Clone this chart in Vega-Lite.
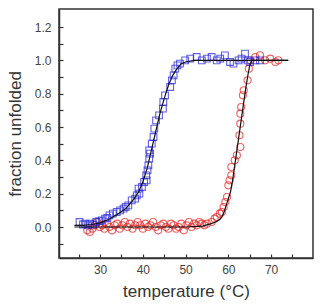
{
  "$schema": "https://vega.github.io/schema/vega-lite/v6.json",
  "autosize": "none",
  "width": 254,
  "height": 249,
  "padding": {"left": 59, "top": 9, "right": 10, "bottom": 50},
  "background": "white",
  "config": {
    "view": {"stroke": "#333", "strokeWidth": 1.5},
    "axis": {
      "grid": false,
      "domainColor": "#333",
      "domainWidth": 1.5,
      "tickColor": "#333",
      "tickWidth": 1.2,
      "tickSize": -4,
      "labelFont": "Liberation Sans",
      "labelFontSize": 12,
      "labelColor": "#444",
      "titleFont": "Liberation Sans",
      "titleFontSize": 17,
      "titleFontWeight": "normal",
      "titleColor": "#333"
    }
  },
  "datasets": {
    "blue": [
      {"T": 25.2, "v": 0.03}, {"T": 26.0, "v": 0.015}, {"T": 26.5, "v": 0.02}, {"T": 27.2, "v": 0.01}, {"T": 27.7, "v": 0.02},
      {"T": 28.4, "v": 0.015}, {"T": 29.1, "v": 0.03}, {"T": 29.8, "v": 0.035}, {"T": 30.4, "v": 0.04}, {"T": 31.2, "v": 0.05},
      {"T": 31.7, "v": 0.055}, {"T": 32.2, "v": 0.07}, {"T": 33.0, "v": 0.08}, {"T": 33.9, "v": 0.09}, {"T": 34.7, "v": 0.10},
      {"T": 35.5, "v": 0.11}, {"T": 36.0, "v": 0.12}, {"T": 36.6, "v": 0.13}, {"T": 37.4, "v": 0.16}, {"T": 38.2, "v": 0.17},
      {"T": 38.6, "v": 0.19}, {"T": 39.2, "v": 0.20}, {"T": 39.0, "v": 0.23}, {"T": 39.8, "v": 0.24}, {"T": 40.3, "v": 0.27},
      {"T": 40.9, "v": 0.28}, {"T": 40.8, "v": 0.31}, {"T": 41.1, "v": 0.34}, {"T": 41.3, "v": 0.37}, {"T": 41.5, "v": 0.41},
      {"T": 41.7, "v": 0.44}, {"T": 41.5, "v": 0.46}, {"T": 42.1, "v": 0.50}, {"T": 42.5, "v": 0.54}, {"T": 42.7, "v": 0.59},
      {"T": 43.1, "v": 0.64}, {"T": 43.8, "v": 0.67}, {"T": 44.7, "v": 0.71}, {"T": 44.8, "v": 0.75}, {"T": 45.2, "v": 0.79},
      {"T": 46.4, "v": 0.84}, {"T": 46.8, "v": 0.88}, {"T": 47.2, "v": 0.91}, {"T": 47.6, "v": 0.95}, {"T": 48.1, "v": 0.97},
      {"T": 48.7, "v": 0.98}, {"T": 49.9, "v": 1.0}, {"T": 51.1, "v": 1.01}, {"T": 52.6, "v": 1.02}, {"T": 53.8, "v": 1.0},
      {"T": 55.0, "v": 1.01}, {"T": 56.1, "v": 1.02}, {"T": 57.3, "v": 1.0}, {"T": 58.1, "v": 1.01}, {"T": 59.2, "v": 1.03},
      {"T": 60.4, "v": 0.99}, {"T": 61.2, "v": 0.98}, {"T": 62.4, "v": 1.0}, {"T": 63.1, "v": 1.01}, {"T": 63.9, "v": 1.04},
      {"T": 64.5, "v": 1.0}, {"T": 65.1, "v": 0.99}, {"T": 66.3, "v": 1.0}, {"T": 67.4, "v": 1.0}
    ],
    "red": [
      {"T": 27.0, "v": -0.02}, {"T": 27.6, "v": -0.03}, {"T": 28.2, "v": -0.01}, {"T": 28.8, "v": 0.01}, {"T": 29.3, "v": 0.03},
      {"T": 29.9, "v": 0.0}, {"T": 30.5, "v": 0.01}, {"T": 31.0, "v": -0.01}, {"T": 31.6, "v": 0.02}, {"T": 32.2, "v": 0.0},
      {"T": 32.8, "v": -0.02}, {"T": 33.4, "v": 0.01}, {"T": 34.0, "v": 0.02}, {"T": 34.6, "v": -0.01}, {"T": 35.2, "v": 0.01},
      {"T": 35.8, "v": 0.03}, {"T": 36.4, "v": 0.0}, {"T": 37.0, "v": 0.02}, {"T": 37.6, "v": -0.01}, {"T": 38.2, "v": 0.01},
      {"T": 38.8, "v": 0.03}, {"T": 39.4, "v": 0.01}, {"T": 40.0, "v": -0.01}, {"T": 40.6, "v": 0.02}, {"T": 41.2, "v": 0.0},
      {"T": 41.8, "v": 0.01}, {"T": 42.4, "v": 0.03}, {"T": 43.0, "v": 0.0}, {"T": 43.6, "v": -0.02}, {"T": 44.2, "v": 0.01},
      {"T": 44.8, "v": 0.02}, {"T": 45.4, "v": 0.0}, {"T": 46.0, "v": -0.01}, {"T": 46.6, "v": 0.02}, {"T": 47.2, "v": 0.01},
      {"T": 47.8, "v": -0.01}, {"T": 48.4, "v": 0.0}, {"T": 49.0, "v": 0.02}, {"T": 49.6, "v": -0.02}, {"T": 50.2, "v": 0.01},
      {"T": 50.8, "v": 0.03}, {"T": 51.4, "v": 0.0}, {"T": 52.0, "v": 0.02}, {"T": 52.6, "v": 0.01}, {"T": 53.2, "v": 0.03},
      {"T": 53.8, "v": 0.02}, {"T": 54.4, "v": 0.01}, {"T": 55.0, "v": 0.02}, {"T": 56.1, "v": 0.03}, {"T": 56.8, "v": 0.05},
      {"T": 57.3, "v": 0.06}, {"T": 58.0, "v": 0.08}, {"T": 58.5, "v": 0.09}, {"T": 58.9, "v": 0.12}, {"T": 59.3, "v": 0.15},
      {"T": 59.7, "v": 0.18}, {"T": 60.0, "v": 0.25}, {"T": 60.3, "v": 0.28}, {"T": 60.7, "v": 0.31}, {"T": 60.7, "v": 0.36},
      {"T": 61.5, "v": 0.40}, {"T": 62.0, "v": 0.43}, {"T": 62.8, "v": 0.48}, {"T": 62.6, "v": 0.55}, {"T": 62.8, "v": 0.62},
      {"T": 62.8, "v": 0.68}, {"T": 63.0, "v": 0.72}, {"T": 63.4, "v": 0.79}, {"T": 63.6, "v": 0.82}, {"T": 64.5, "v": 0.88},
      {"T": 64.8, "v": 0.95}, {"T": 65.2, "v": 1.0}, {"T": 66.3, "v": 1.02}, {"T": 67.4, "v": 1.03}, {"T": 68.6, "v": 1.0},
      {"T": 69.8, "v": 1.01}, {"T": 71.0, "v": 0.99}, {"T": 71.7, "v": 1.0}
    ],
    "blueFit": [
      {"T": 24, "v": 0.01}, {"T": 26, "v": 0.01}, {"T": 28, "v": 0.015}, {"T": 30, "v": 0.025}, {"T": 32, "v": 0.045},
      {"T": 34, "v": 0.075}, {"T": 36, "v": 0.11}, {"T": 37, "v": 0.14}, {"T": 38, "v": 0.17}, {"T": 39, "v": 0.21},
      {"T": 40, "v": 0.27}, {"T": 41, "v": 0.35}, {"T": 42, "v": 0.46}, {"T": 43, "v": 0.57}, {"T": 44, "v": 0.68},
      {"T": 45, "v": 0.77}, {"T": 46, "v": 0.85}, {"T": 47, "v": 0.91}, {"T": 48, "v": 0.95}, {"T": 49, "v": 0.98},
      {"T": 50, "v": 0.99}, {"T": 52, "v": 1.0}, {"T": 74, "v": 1.0}
    ],
    "redFit": [
      {"T": 24, "v": 0.0}, {"T": 50, "v": 0.0}, {"T": 54, "v": 0.005}, {"T": 56, "v": 0.02}, {"T": 57, "v": 0.03},
      {"T": 58, "v": 0.045}, {"T": 58.5, "v": 0.06}, {"T": 59, "v": 0.09}, {"T": 59.5, "v": 0.13}, {"T": 60, "v": 0.17},
      {"T": 60.5, "v": 0.21}, {"T": 61, "v": 0.28}, {"T": 61.5, "v": 0.37}, {"T": 62, "v": 0.46}, {"T": 62.5, "v": 0.55},
      {"T": 63, "v": 0.64}, {"T": 63.5, "v": 0.73}, {"T": 64, "v": 0.82}, {"T": 64.5, "v": 0.9}, {"T": 65, "v": 0.97},
      {"T": 65.5, "v": 1.0}, {"T": 74, "v": 1.0}
    ]
  },
  "encoding": {
    "x": {
      "field": "T", "type": "quantitative",
      "scale": {"domain": [20.4, 79.8], "nice": false, "zero": false},
      "axis": {
        "title": "temperature (°C)",
        "values": [25, 30, 35, 40, 45, 50, 55, 60, 65, 70, 75],
        "labelExpr": "datum.value % 10 == 0 ? datum.label : ''",
        "labelPadding": 10,
        "titlePadding": 8
      }
    },
    "y": {
      "field": "v", "type": "quantitative",
      "scale": {"domain": [-0.186, 1.308], "nice": false, "zero": false},
      "axis": {
        "title": "fraction unfolded",
        "values": [-0.1, 0, 0.1, 0.2, 0.3, 0.4, 0.5, 0.6, 0.7, 0.8, 0.9, 1.0, 1.1, 1.2],
        "labelExpr": "abs(round(datum.value * 10)) % 2 == 0 ? format(datum.value, '.1f') : ''",
        "labelPadding": 12,
        "titlePadding": 10
      }
    }
  },
  "layer": [
    {"data": {"name": "red"}, "mark": {"type": "point", "shape": "circle", "filled": false, "color": "#e8201e", "size": 50, "strokeWidth": 1.1}},
    {"data": {"name": "blue"}, "mark": {"type": "point", "shape": "square", "filled": false, "color": "#1f1fd6", "size": 45, "strokeWidth": 1.1}},
    {"data": {"name": "blueFit"}, "mark": {"type": "line", "color": "#111", "strokeWidth": 1.2}},
    {"data": {"name": "redFit"}, "mark": {"type": "line", "color": "#111", "strokeWidth": 1.2}}
  ]
}
